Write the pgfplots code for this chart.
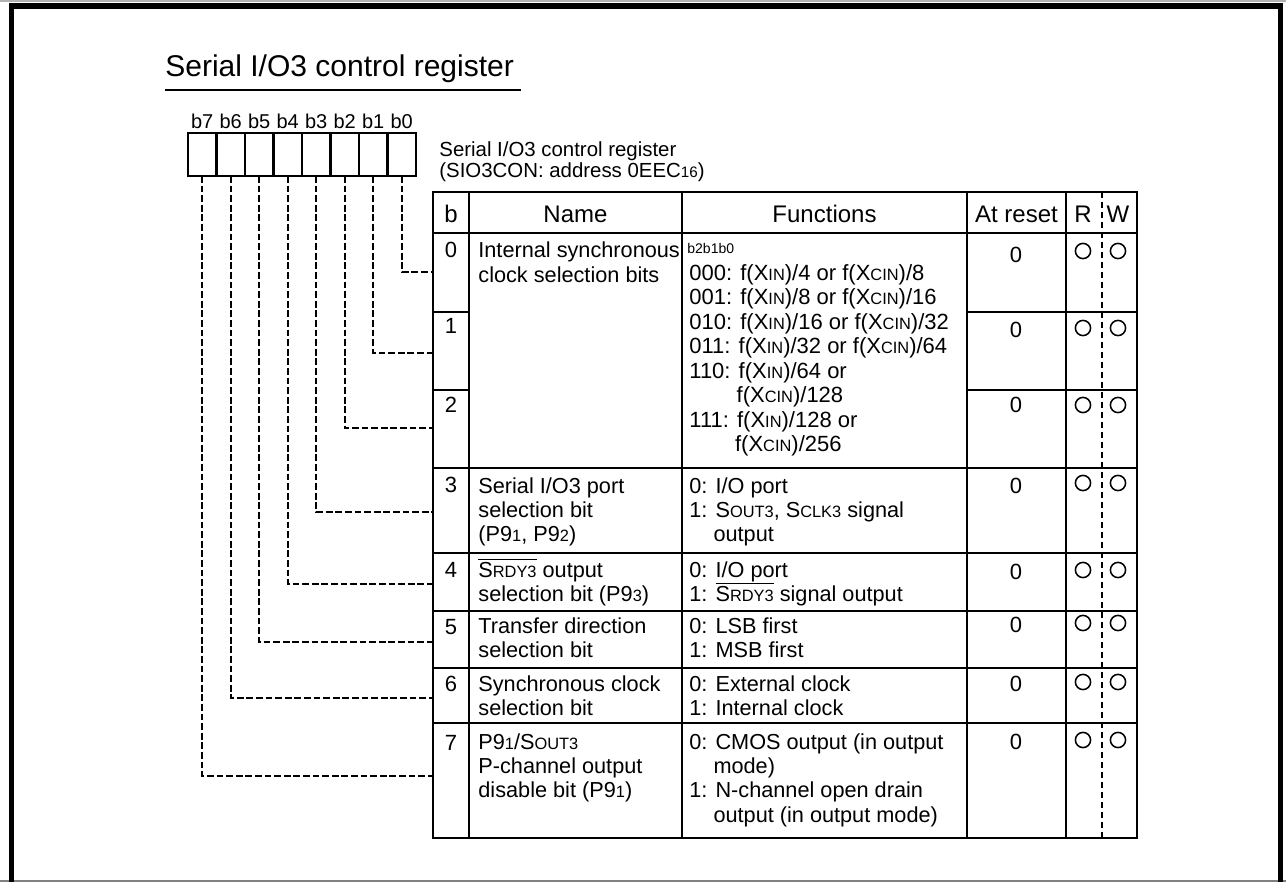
\documentclass[border=0pt]{standalone}
\usepackage{pgfplots}
\pgfplotsset{compat=1.18}
\usepackage{fontspec}
\setmainfont{Liberation Sans}
\newcommand\smc[1]{{\fontsize{8.2}{8.2}\selectfont #1}}
\newcommand\smt[1]{{\fontsize{7.6}{7.6}\selectfont #1}}
\newcommand\seg[4]{\addplot[black, line width=1.35pt, line cap=rect, mark=none] coordinates {(#1,#2) (#3,#4)};}
\newcommand\conn[2]{\addplot[black, line width=1pt, dash pattern=on 3.4pt off 1.4pt, line cap=butt, mark=none] coordinates {(#1,176) (#1,#2) (433,#2)};}
\tikzset{
  txt/.style={anchor=base west, inner sep=0pt, align=left, font=\fontsize{10.85}{12.2}\selectfont},
  ctr/.style={anchor=base, inner sep=0pt, font=\fontsize{11}{12.2}\selectfont},
  hdr/.style={anchor=base, inner sep=0pt, font=\fontsize{12}{14}\selectfont},
  bl/.style={anchor=base, inner sep=0pt, font=\fontsize{10}{12}\selectfont},
}
\begin{document}
\begin{tikzpicture}
\begin{axis}[
  width=643pt, height=441pt, scale only axis,
  xmin=0, xmax=1286, ymin=0, ymax=882, y dir=reverse,
  hide axis, clip=false,
]
\coordinate (BL) at (axis cs:0,882);
\coordinate (TR) at (axis cs:1286,0);
% outer frame
\addplot[gray, line width=0.8pt, line cap=butt, mark=none] coordinates {(0,881) (1286,881)};
\addplot[gray!60, line width=0.6pt, line cap=butt, mark=none] coordinates {(0,1) (1286,1)};
\addplot[black, line width=2.8pt, line join=miter, line cap=butt, mark=none] coordinates {(11.5,882) (11.5,6) (1280.5,6) (1280.5,882)};
% title
\node[anchor=base west, inner sep=0pt, font=\fontsize{15}{18}\selectfont] at (axis cs:165,77) {Serial I/O3 control register};
\addplot[black, line width=0.6pt, line cap=butt, mark=none] coordinates {(165,90) (521,90)};
% register boxes
\addplot[black, line width=1.2pt, line cap=rect, line join=miter, mark=none] coordinates {(188,133) (416,133) (416,176) (188,176) (188,133)};
\seg{216.5}{133}{216.5}{176}
\seg{245}{133}{245}{176}
\seg{273.5}{133}{273.5}{176}
\seg{302}{133}{302}{176}
\seg{330.5}{133}{330.5}{176}
\seg{359}{133}{359}{176}
\seg{387.5}{133}{387.5}{176}
% bit labels
\node[bl] at (axis cs:202.25,129) {b7};
\node[bl] at (axis cs:230.75,129) {b6};
\node[bl] at (axis cs:259.25,129) {b5};
\node[bl] at (axis cs:287.75,129) {b4};
\node[bl] at (axis cs:316.25,129) {b3};
\node[bl] at (axis cs:344.75,129) {b2};
\node[bl] at (axis cs:373.25,129) {b1};
\node[bl] at (axis cs:401.75,129) {b0};
% subtitle (base = last line)
\node[anchor=base west, inner sep=0pt, align=left, font=\fontsize{10.2}{10.6}\selectfont] at (axis cs:439,178) {Serial I/O3 control register\\(SIO3CON: address 0EEC\smt{16})};
% connections
\conn{202.25}{776}
\conn{230.75}{698}
\conn{259.25}{642}
\conn{287.75}{584}
\conn{316.25}{512}
\conn{344.75}{428}
\conn{373.25}{353}
\conn{401.75}{272}
% table verticals
\seg{433}{192}{433}{838}
\seg{469}{192}{469}{838}
\seg{682}{192}{682}{838}
\seg{967}{192}{967}{838}
\seg{1066}{192}{1066}{838}
\seg{1137}{192}{1137}{838}
% table horizontals
\seg{433}{192}{1137}{192}
\seg{433}{233}{1137}{233}
\seg{433}{468}{1137}{468}
\seg{433}{553}{1137}{553}
\seg{433}{611}{1137}{611}
\seg{433}{668}{1137}{668}
\seg{433}{723}{1137}{723}
\seg{433}{838}{1137}{838}
\seg{433}{312}{469}{312}
\seg{967}{312}{1137}{312}
\seg{433}{390}{469}{390}
\seg{967}{390}{1137}{390}
% R/W separator
\addplot[black, line width=0.6pt, dash pattern=on 3pt off 2pt, line cap=butt, mark=none] coordinates {(1102,192) (1102,838)};
% header
\node[hdr] at (axis cs:451,223) {b};
\node[hdr] at (axis cs:575.5,223) {Name};
\node[hdr] at (axis cs:824.5,223) {Functions};
\node[hdr] at (axis cs:1016.5,223) {At reset};
\node[hdr] at (axis cs:1083,223) {R};
\node[hdr] at (axis cs:1118,223) {W};
% bit numbers
\node[ctr] at (axis cs:451,258) {0};
\node[ctr] at (axis cs:451,334) {1};
\node[ctr] at (axis cs:451,413) {2};
\node[ctr] at (axis cs:451,492) {3};
\node[ctr] at (axis cs:451,577) {4};
\node[ctr] at (axis cs:451,634) {5};
\node[ctr] at (axis cs:451,691) {6};
\node[ctr] at (axis cs:451,750) {7};
% at reset
\node[ctr] at (axis cs:1016,263) {0};
\node[ctr] at (axis cs:1016,338) {0};
\node[ctr] at (axis cs:1016,413) {0};
\node[ctr] at (axis cs:1016,493) {0};
\node[ctr] at (axis cs:1016,579) {0};
\node[ctr] at (axis cs:1016,632) {0};
\node[ctr] at (axis cs:1016,691) {0};
\node[ctr] at (axis cs:1016,749) {0};
% R/W circles
\addplot[black, only marks, mark=o, mark size=3.8pt, mark options={line width=0.75pt, solid}] coordinates {
(1083,251) (1118,251) (1083,328) (1118,328) (1083,405) (1118,405)
(1083,483) (1118,483) (1083,570) (1118,570) (1083,623) (1118,623)
(1083,682) (1118,682) (1083,740) (1118,740)};
% names (anchor = baseline of last line)
\node[txt] at (axis cs:478,282.4) {Internal synchronous\\clock selection bits};
\node[txt] at (axis cs:478,541.8) {Serial I/O3 port\\selection bit\\(P9\smc{1}, P9\smc{2})};
\node[txt] at (axis cs:478,601.4) {$\overline{\mbox{S\smc{RDY3}}}$ output\\selection bit (P9\smc{3})};
\node[txt] at (axis cs:478,657.4) {Transfer direction\\selection bit};
\node[txt] at (axis cs:478,715.4) {Synchronous clock\\selection bit};
\node[txt] at (axis cs:478,797.8) {P9\smc{1}/S\smc{OUT3}\\P-channel output\\disable bit (P9\smc{1})};
% functions
\node[anchor=base west, inner sep=0pt, font=\fontsize{7}{8}\selectfont] at (axis cs:687,254) {b2b1b0};
\node[txt, font=\fontsize{11}{12.25}\selectfont] at (axis cs:689,451.5) {000: f(X\smc{IN})/4 or f(X\smc{CIN})/8\\001: f(X\smc{IN})/8 or f(X\smc{CIN})/16\\010: f(X\smc{IN})/16 or f(X\smc{CIN})/32\\011: f(X\smc{IN})/32 or f(X\smc{CIN})/64\\110: f(X\smc{IN})/64 or\\\phantom{110:~}f(X\smc{CIN})/128\\111: f(X\smc{IN})/128 or\\\phantom{111:~}f(X\smc{CIN})/256};
\node[txt] at (axis cs:689,541.8) {0: I/O port\\1: S\smc{OUT3}, S\smc{CLK3} signal\\\phantom{1:~}output};
\node[txt] at (axis cs:689,601.4) {0: I/O port\\1: $\overline{\mbox{S\smc{RDY3}}}$ signal output};
\node[txt] at (axis cs:689,657.4) {0: LSB first\\1: MSB first};
\node[txt] at (axis cs:689,715.4) {0: External clock\\1: Internal clock};
\node[txt] at (axis cs:689,822.2) {0: CMOS output (in output\\\phantom{0:~}mode)\\1: N-channel open drain\\\phantom{1:~}output (in output mode)};
\end{axis}
\pgfresetboundingbox
\path[use as bounding box] (BL) rectangle (TR);
\end{tikzpicture}
\end{document}
